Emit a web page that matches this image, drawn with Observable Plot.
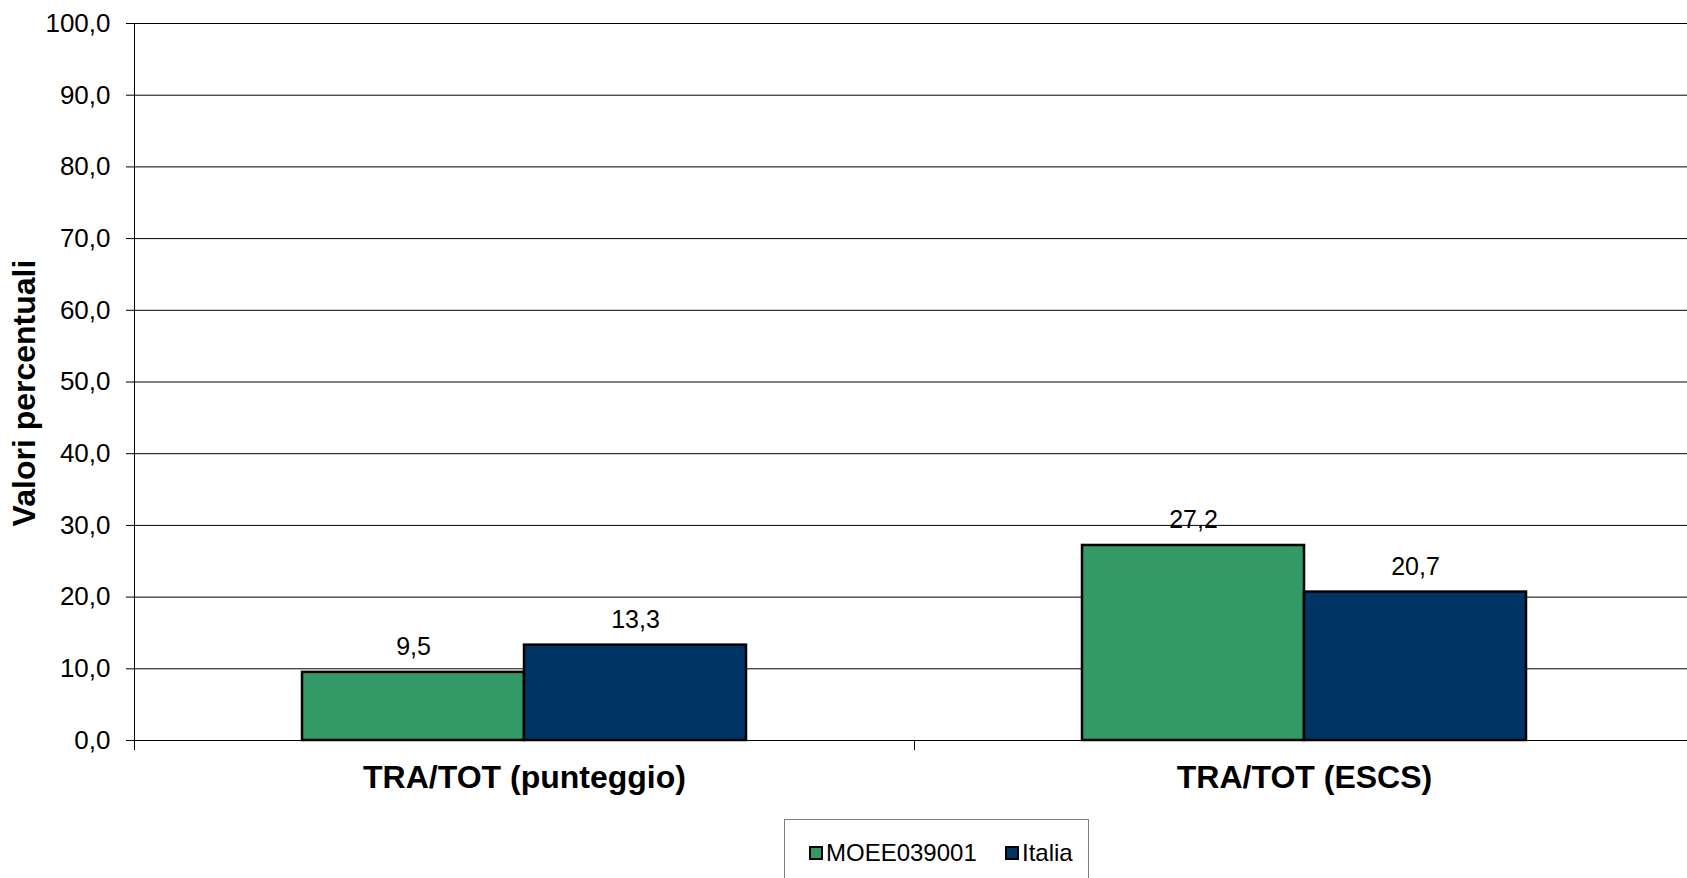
<!DOCTYPE html>
<html>
<head>
<meta charset="utf-8">
<script src="https://cdn.jsdelivr.net/npm/d3@7"></script>
<script src="https://cdn.jsdelivr.net/npm/@observablehq/plot@0.6"></script>
<style>
  html, body { margin: 0; padding: 0; background: #fff; overflow: hidden; }
  body { font-family: "Liberation Sans", Arial, sans-serif; }
  #chart svg { display: block; max-width: none !important; height: 800px !important; }
  .legend {
    position: absolute; left: 784px; top: 819px; width: 305px; height: 80px;
    border: 1px solid #7f7f7f; box-sizing: border-box; background: #fff;
    font-family: "Liberation Sans", Arial, sans-serif; font-size: 24px; color: #000;
  }
  .legend .item { position: absolute; top: 19px; display: flex; align-items: center; line-height: 28px; }
  .legend .sw { width: 10px; height: 10px; border: 2px solid #000; margin-right: 3px; }
</style>
</head>
<body>
<div id="chart"></div>
<div class="legend" id="legend"></div>
<script>
const categories = ["TRA/TOT (punteggio)", "TRA/TOT (ESCS)"];
const series = ["MOEE039001", "Italia"];
const colors = ["#339966", "#003366"];
const valuesMOEE = [9.5, 27.2];
const valuesItalia = [13.3, 20.7];
const yTicks = [0, 10, 20, 30, 40, 50, 60, 70, 80, 90, 100];
const yLabel = "Valori percentuali";

const data = [];
categories.forEach((c, i) => {
  data.push({category: c, series: series[0], value: valuesMOEE[i]});
  data.push({category: c, series: series[1], value: valuesItalia[i]});
});

const fmt = d => d.toFixed(1).replace(".", ",");

const W = 1694, H = 800, mTop = 23, mBottom = 60, mLeft = 134;
const plotH = H - mTop - mBottom;

const chart = Plot.plot({
  width: W,
  height: H,
  marginTop: mTop,
  marginBottom: mBottom,
  marginLeft: mLeft,
  marginRight: 0,
  style: {fontFamily: "'Liberation Sans', Arial, sans-serif", color: "#000", background: "#fff"},
  fx: {domain: categories, padding: 0, axis: null, label: null},
  x: {domain: series, paddingInner: 0, paddingOuter: 0.749, axis: null},
  y: {domain: [0, 100], axis: null},
  color: {domain: series, range: colors},
  marks: [
    Plot.gridY(yTicks, {stroke: "#000", strokeOpacity: 1, strokeWidth: 1}),
    Plot.frame({anchor: "left", facetAnchor: "left", insetBottom: -9, stroke: "#000", strokeWidth: 1}),
    Plot.frame({anchor: "left", insetTop: plotH, insetBottom: -9, stroke: "#000", strokeWidth: 1}),
    Plot.axisY(yTicks, {tickSize: 8, tickPadding: 16, tickFormat: fmt, fontSize: 26,
      label: yLabel, labelAnchor: "center", labelArrow: "none", labelOffset: 122}),
    Plot.axisFx({anchor: "bottom", tickSize: 0, tickPadding: 25, fontSize: 32, fontWeight: "bold", label: null}),
    Plot.barY(data, {fx: "category", x: "series", y: "value", fill: "series", stroke: "#000", strokeWidth: 2.5}),
    Plot.text(data, {fx: "category", x: "series", y: "value", text: d => fmt(d.value),
      fontSize: 25, lineAnchor: "bottom", dy: -17, fill: "#000"})
  ]
});

// style y label
chart.querySelectorAll("text").forEach(t => {
  if (t.textContent.trim().startsWith(yLabel)) {
    t.setAttribute("font-size", 32);
    t.setAttribute("font-weight", "bold");
    t.setAttribute("dx", -11);
    t.style.fontSize = "32px";
    t.style.fontWeight = "bold";
  }
});

document.getElementById("chart").appendChild(chart);

const legend = document.getElementById("legend");
const lefts = [24, 220];
series.forEach((s, i) => {
  const item = document.createElement("div");
  item.className = "item";
  item.style.left = lefts[i] + "px";
  const sw = document.createElement("span");
  sw.className = "sw";
  sw.style.background = colors[i];
  const tx = document.createElement("span");
  tx.textContent = s;
  item.appendChild(sw);
  item.appendChild(tx);
  legend.appendChild(item);
});
</script>
</body>
</html>
